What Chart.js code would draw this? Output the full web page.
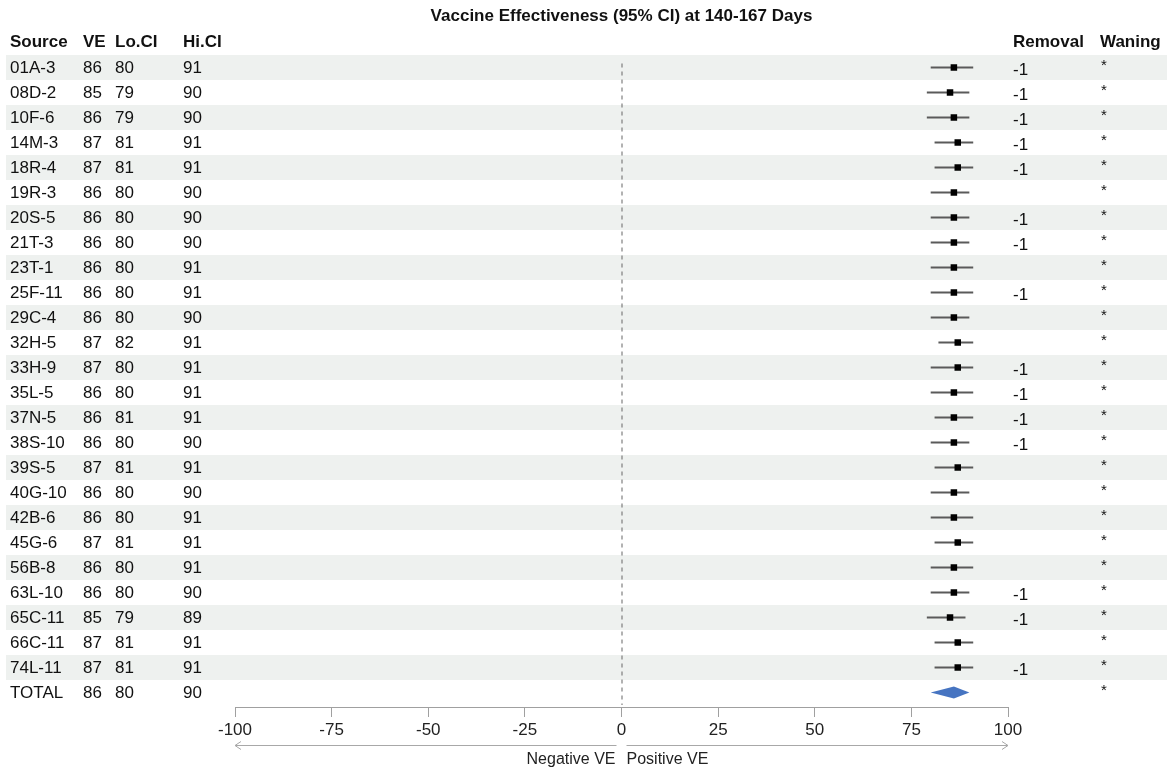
<!DOCTYPE html>
<html>
<head>
<meta charset="utf-8">
<script src="https://cdn.jsdelivr.net/npm/chart.js@4"></script>
<style>
  html, body { margin: 0; padding: 0; background: #ffffff; }
  #wrap { width: 1167px; height: 771px; }
</style>
</head>
<body>
<div id="wrap"><canvas id="c" width="1167" height="771"></canvas></div>
<script>
const title = "Vaccine Effectiveness (95% CI) at 140-167 Days";
const sources = ["01A-3","08D-2","10F-6","14M-3","18R-4","19R-3","20S-5","21T-3","23T-1","25F-11","29C-4","32H-5","33H-9","35L-5","37N-5","38S-10","39S-5","40G-10","42B-6","45G-6","56B-8","63L-10","65C-11","66C-11","74L-11","TOTAL"];
const ve   = [86,85,86,87,87,86,86,86,86,86,86,87,87,86,86,86,87,86,86,87,86,86,85,87,87,86];
const loCI = [80,79,79,81,81,80,80,80,80,80,80,82,80,80,81,80,81,80,80,81,80,80,79,81,81,80];
const hiCI = [91,90,90,91,91,90,90,90,91,91,90,91,91,91,91,90,91,90,91,91,91,90,89,91,91,90];
const removal = ["-1","-1","-1","-1","-1","","-1","-1","","-1","","","-1","-1","-1","-1","","","","","","-1","-1","","-1",""];
const waning = ["*","*","*","*","*","*","*","*","*","*","*","*","*","*","*","*","*","*","*","*","*","*","*","*","*","*"];
const xTicks = [-100,-75,-50,-25,0,25,50,75,100];
const leftHeaders = ["Source","VE","Lo.CI","Hi.CI"];
const rightHeaders = ["Removal","Waning"];
const axisLabels = ["Negative VE","Positive VE"];

const FONT = "'Liberation Sans', Arial, Helvetica, sans-serif";
Chart.defaults.font.family = FONT;

const nStudies = sources.length - 1; // last row is TOTAL

// CI line datasets (one per study row)
const ciSets = [];
for (let i = 0; i < nStudies; i++) {
  ciSets.push({
    type: 'scatter',
    data: [{x: loCI[i], y: i}, {x: hiCI[i], y: i}],
    showLine: true,
    borderColor: '#5a5a5a',
    borderWidth: 2,
    pointRadius: 0,
    pointHoverRadius: 0,
    order: 2
  });
}
const pointSet = {
  type: 'scatter',
  data: ve.slice(0, nStudies).map((v, i) => ({x: v, y: i})),
  pointStyle: 'rect',
  pointRadius: 4.6,
  backgroundColor: '#000000',
  borderColor: '#000000',
  borderWidth: 0,
  order: 1
};

const bgPlugin = {
  id: 'bands',
  beforeDraw(chart) {
    const ctx = chart.ctx, y = chart.scales.y;
    ctx.save();
    ctx.fillStyle = '#ffffff';
    ctx.fillRect(0, 0, chart.width, chart.height);
    const h = Math.abs(y.getPixelForValue(1) - y.getPixelForValue(0));
    ctx.fillStyle = '#eef1ef';
    for (let i = 0; i < sources.length; i += 2) {
      const py = y.getPixelForValue(i);
      ctx.fillRect(6, py - h / 2, chart.width - 6, h);
    }
    // dashed zero line
    const x0 = chart.scales.x.getPixelForValue(0);
    ctx.strokeStyle = '#666666';
    ctx.lineWidth = 1;
    ctx.setLineDash([4, 4]);
    ctx.beginPath();
    ctx.moveTo(x0 + 0.5, y.getPixelForValue(0) - 4);
    ctx.lineTo(x0 + 0.5, chart.chartArea.bottom - 2);
    ctx.stroke();
    ctx.restore();
  }
};

const textPlugin = {
  id: 'texts',
  afterDraw(chart) {
    const ctx = chart.ctx, x = chart.scales.x, y = chart.scales.y;
    ctx.save();
    // total diamond
    const ti = sources.length - 1;
    const cy = y.getPixelForValue(ti);
    ctx.fillStyle = '#4674c1';
    ctx.beginPath();
    ctx.moveTo(x.getPixelForValue(loCI[ti]), cy);
    ctx.lineTo(x.getPixelForValue(ve[ti]), cy - 6);
    ctx.lineTo(x.getPixelForValue(hiCI[ti]), cy);
    ctx.lineTo(x.getPixelForValue(ve[ti]), cy + 6);
    ctx.closePath();
    ctx.fill();

    // title
    ctx.fillStyle = '#111111';
    ctx.textBaseline = 'middle';
    ctx.textAlign = 'center';
    ctx.font = "bold 17px " + FONT;
    ctx.fillText(title, x.getPixelForValue(0), 16);

    // headers
    const leftX = [10, 83, 115, 183];
    const rightX = [1013, 1100];
    ctx.textAlign = 'left';
    const hy = y.getPixelForValue(0) - 25;
    leftHeaders.forEach((t, k) => ctx.fillText(t, leftX[k], hy));
    rightHeaders.forEach((t, k) => ctx.fillText(t, rightX[k], hy));

    ctx.font = "17px " + FONT;
    for (let i = 0; i < sources.length; i++) {
      const py = y.getPixelForValue(i) + 1;
      ctx.fillText(sources[i], leftX[0], py);
      ctx.fillText(String(ve[i]), leftX[1], py);
      ctx.fillText(String(loCI[i]), leftX[2], py);
      ctx.fillText(String(hiCI[i]), leftX[3], py);
      if (removal[i]) ctx.fillText(removal[i], rightX[0], py + 2);
    }
    ctx.font = "15px " + FONT;
    for (let i = 0; i < sources.length; i++) {
      const py = y.getPixelForValue(i) - 2;
      if (waning[i]) ctx.fillText(waning[i], rightX[1] + 1, py);
    }

    // arrows
    const ay = 745.5;
    const xm = x.getPixelForValue(-100), xz = x.getPixelForValue(0), xp = x.getPixelForValue(100);
    ctx.strokeStyle = '#a8a8a8';
    ctx.lineWidth = 1;
    ctx.beginPath();
    ctx.moveTo(xz - 5, ay); ctx.lineTo(xm, ay);
    ctx.moveTo(xm + 6, ay - 4); ctx.lineTo(xm, ay); ctx.lineTo(xm + 6, ay + 4);
    ctx.moveTo(xz + 5, ay); ctx.lineTo(xp, ay);
    ctx.moveTo(xp - 6, ay - 4); ctx.lineTo(xp, ay); ctx.lineTo(xp - 6, ay + 4);
    ctx.stroke();
    ctx.fillStyle = '#222222';
    ctx.font = "16px " + FONT;
    ctx.textAlign = 'right';
    ctx.fillText(axisLabels[0], xz - 6, 760);
    ctx.textAlign = 'left';
    ctx.fillText(axisLabels[1], xz + 5, 760);
    ctx.restore();
  }
};

new Chart(document.getElementById('c'), {
  type: 'scatter',
  data: { datasets: [...ciSets, pointSet] },
  options: {
    responsive: false,
    animation: false,
    devicePixelRatio: 1,
    layout: { padding: { left: 235, right: 159, top: 55, bottom: 24 } },
    plugins: { legend: { display: false }, tooltip: { enabled: false }, title: { display: false } },
    scales: {
      x: {
        type: 'linear',
        min: -100, max: 100,
        afterBuildTicks(scale) { scale.ticks = xTicks.map(v => ({ value: v })); },
        afterFit(scale) { scale.height = 40; },
        ticks: { color: '#222222', font: { size: 17 }, padding: 3, maxRotation: 0, autoSkip: false },
        grid: { drawOnChartArea: false, drawTicks: true, tickLength: 10, color: '#a0a0a0' },
        border: { display: true, color: '#a0a0a0' }
      },
      y: {
        type: 'linear',
        display: false,
        reverse: true,
        min: -0.5, max: 25.58
      }
    }
  },
  plugins: [bgPlugin, textPlugin]
});
</script>
</body>
</html>
